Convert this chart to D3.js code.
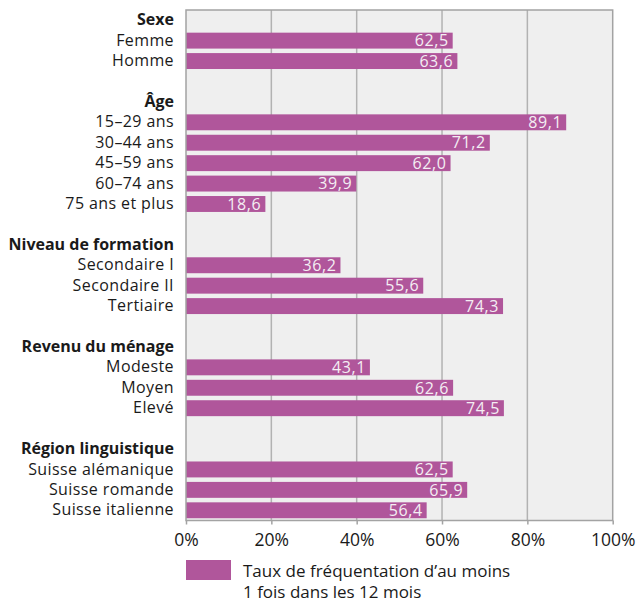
<!DOCTYPE html>
<html>
<head>
<meta charset="utf-8">
<script src="https://cdn.jsdelivr.net/npm/d3@7"></script>
<style>
  body { margin: 0; background: #fff; }
  text { font-family: "Open Sans", sans-serif; }
</style>
</head>
<body>
<script>
// rows top to bottom; headers are bold, "" rows are spacers
var groups = ["Sexe", "Âge", "Niveau de formation", "Revenu du ménage", "Région linguistique"];
var categories = [
  ["Femme", "Homme"],
  ["15–29 ans", "30–44 ans", "45–59 ans", "60–74 ans", "75 ans et plus"],
  ["Secondaire I", "Secondaire II", "Tertiaire"],
  ["Modeste", "Moyen", "Elevé"],
  ["Suisse alémanique", "Suisse romande", "Suisse italienne"]
];
var values = [
  [62.5, 63.6],
  [89.1, 71.2, 62.0, 39.9, 18.6],
  [36.2, 55.6, 74.3],
  [43.1, 62.6, 74.5],
  [62.5, 65.9, 56.4]
];
var xTicks = [0, 20, 40, 60, 80, 100];
var legendLabel = ["Taux de fréquentation d\u2019au moins", "1 fois dans les 12 mois"];

var barColor = "#b0569b";

// build row list
var rows = [];
groups.forEach(function(g, i) {
  if (i > 0) rows.push({key: "sp" + i, label: "", type: "space"});
  rows.push({key: "h" + i, label: g, type: "header"});
  categories[i].forEach(function(c, j) {
    rows.push({key: i + "_" + j, label: c, type: "bar", value: values[i][j]});
  });
});

var width = 641, height = 603;
var margin = {top: 10, left: 186, right: 28.3, bottom: 82.5};

var svg = d3.select("body")
  .append("svg")
    .attr("width", width)
    .attr("height", height);

var x = d3.scaleLinear()
  .domain([0, 100])
  .range([margin.left, width - margin.right]);

var y = d3.scaleBand()
  .domain(rows.map(function(d) { return d.key; }))
  .range([margin.top, height - margin.bottom])
  .paddingInner(0.22)
  .paddingOuter(0.11);

// plot background
svg.append("rect")
  .attr("x", x(0))
  .attr("y", margin.top)
  .attr("width", x(100) - x(0))
  .attr("height", height - margin.bottom - margin.top)
  .attr("fill", "#efefef");

// vertical grid
svg.append("g")
  .selectAll("line")
  .data(xTicks.slice(1, -1))
  .enter()
  .append("line")
    .attr("x1", function(d) { return x(d); })
    .attr("x2", function(d) { return x(d); })
    .attr("y1", margin.top)
    .attr("y2", height - margin.bottom)
    .attr("stroke", "#b2b2b2")
    .attr("stroke-width", 1.5);

// bars
var barRows = rows.filter(function(d) { return d.type === "bar"; });
svg.append("g")
  .selectAll("rect")
  .data(barRows)
  .enter()
  .append("rect")
    .attr("x", x(0))
    .attr("y", function(d) { return y(d.key); })
    .attr("width", function(d) { return x(d.value) - x(0); })
    .attr("height", y.bandwidth())
    .attr("fill", barColor);

// value labels inside bars
svg.append("g")
  .selectAll("text")
  .data(barRows)
  .enter()
  .append("text")
    .attr("x", function(d) { return x(d.value) - 4; })
    .attr("y", function(d) { return y(d.key) + y.bandwidth() / 2; })
    .attr("dy", "0.36em")
    .attr("text-anchor", "end")
    .attr("fill", "#f4eef3")
    .style("font-size", "16px")
    .style("letter-spacing", "0.6px")
    .text(function(d) { return d3.format(".1f")(d.value).replace(".", ","); });

// frame
svg.append("rect")
  .attr("x", x(0))
  .attr("y", margin.top)
  .attr("width", x(100) - x(0))
  .attr("height", height - margin.bottom - margin.top)
  .attr("fill", "none")
  .attr("stroke", "#a3a3a3")
  .attr("stroke-width", 1.5);

// category axis
var yAxis = svg.append("g")
  .attr("transform", "translate(" + (x(0) - 12) + ",0)")
  .call(d3.axisLeft(y).tickSize(0).tickFormat(function(k) {
    return rows.find(function(r) { return r.key === k; }).label;
  }));
yAxis.select(".domain").remove();
yAxis.selectAll("text")
  .attr("x", 0)
  .attr("fill", "#1a1a1a")
  .style("font-size", "16px")
  .style("font-family", "'Open Sans', sans-serif")
  .style("letter-spacing", function(k) {
    return rows.find(function(r) { return r.key === k; }).type === "header" ? "0px" : "0.4px";
  })
  .style("font-weight", function(k) {
    return rows.find(function(r) { return r.key === k; }).type === "header" ? "bold" : "normal";
  });

// x axis
var xAxis = svg.append("g")
  .attr("transform", "translate(0," + (height - margin.bottom) + ")")
  .call(d3.axisBottom(x).tickValues(xTicks).tickSize(4).tickPadding(9)
    .tickFormat(function(d) { return d + "%"; }));
xAxis.select(".domain").remove();
xAxis.selectAll("line").attr("stroke", "#a3a3a3").attr("stroke-width", 1.5);
xAxis.selectAll("text")
  .attr("fill", "#1a1a1a")
  .style("font-size", "17.5px")
  .style("font-family", "'Open Sans', sans-serif");

// legend
var legend = svg.append("g");
legend.append("rect")
  .attr("x", x(0))
  .attr("y", 560)
  .attr("width", 45)
  .attr("height", 20)
  .attr("fill", barColor);
legend.selectAll("text")
  .data(legendLabel)
  .enter()
  .append("text")
    .attr("x", x(0) + 57)
    .attr("y", function(d, i) { return 577 + i * 21; })
    .attr("fill", "#1a1a1a")
    .style("font-size", "17px")
    .text(function(d) { return d; });
</script>
</body>
</html>
